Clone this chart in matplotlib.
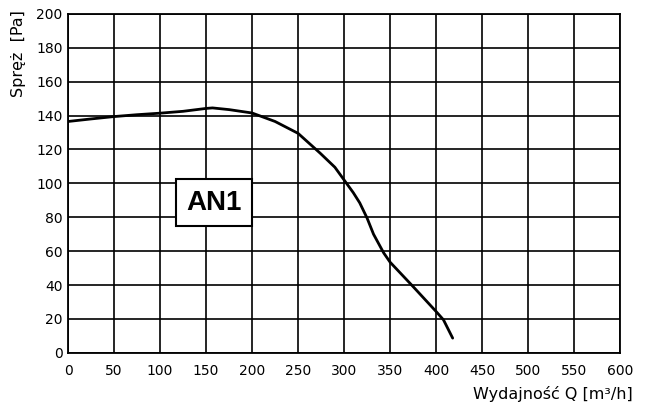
import matplotlib
matplotlib.use("Agg")
import matplotlib.pyplot as plt

plt.rcParams['font.family'] = ['DejaVu Sans']

# Fan curve AN1: flow Q [m3/h] vs pressure [Pa]
q = [0, 25, 50, 75, 100, 125, 150, 157, 175, 200, 225, 250, 274, 290, 300, 310, 317, 325, 332, 343, 350, 375, 400, 408, 418]
p = [136.5, 138, 139.4, 140.5, 141.4, 142.5, 144.2, 144.5, 143.5, 141.5, 136.5, 129.5, 117.8, 109.5, 102, 94.5, 88.5, 79.5, 70, 59, 53.5, 39.1, 24.4, 19.5, 8.7]

x_ticks = [0, 50, 100, 150, 200, 250, 300, 350, 400, 450, 500, 550, 600]
y_ticks = [0, 20, 40, 60, 80, 100, 120, 140, 160, 180, 200]

fig = plt.figure(figsize=(6.48, 4.07), dpi=100)
ax = fig.add_axes([0.105, 0.133, 0.852, 0.833])

ax.set_xlim(0, 600)
ax.set_ylim(0, 200)
ax.set_xticks(x_ticks)
ax.set_yticks(y_ticks)
ax.grid(True, color='black', linewidth=1.2)
ax.set_axisbelow(True)
for s in ax.spines.values():
    s.set_linewidth(1.3)
ax.tick_params(axis='y', length=0, labelsize=10, pad=4)
ax.tick_params(axis='x', length=0, labelsize=10, pad=8)

ax.plot(q, p, color='black', linewidth=2.0, solid_capstyle='round', zorder=3)

ax.text(158.7, 88.5, 'AN1', fontsize=20, fontweight='bold', ha='center', va='center',
        family=['Liberation Sans'], zorder=4,
        bbox=dict(boxstyle='square,pad=0.38', facecolor='white', edgecolor='black', linewidth=1.5))

fig.text(0.028, 0.976, 'Spręż  [Pa]', rotation=90, fontsize=11.5, ha='center', va='top')
fig.text(0.977, 0.012, 'Wydajność Q [m³/h]', fontsize=11.5, ha='right', va='bottom')

fig.savefig('out.png', dpi=100)
